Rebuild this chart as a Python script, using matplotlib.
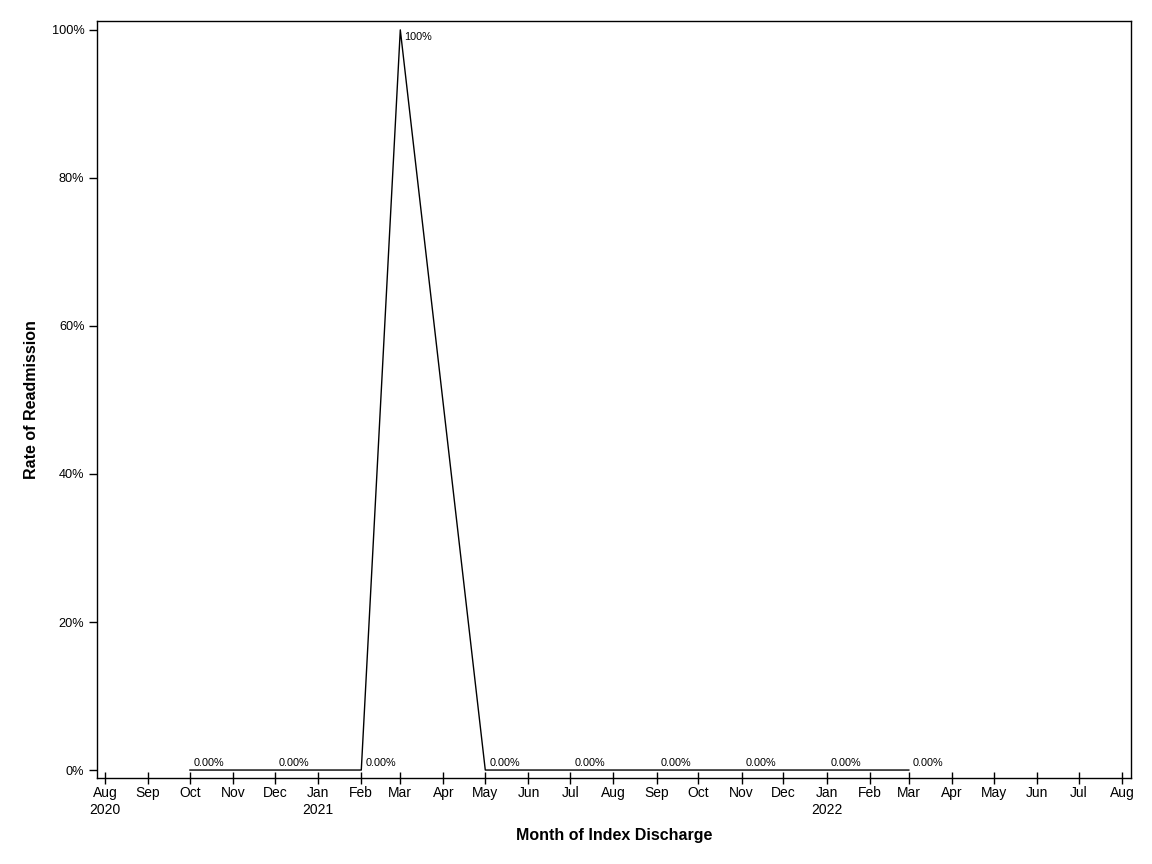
import numpy as np
import matplotlib
matplotlib.use('Agg')
import matplotlib.pyplot as plt
import matplotlib.dates as mdates
from datetime import date

# Readmission rate by month of index discharge
months = ['2020-10', '2020-12', '2021-02', '2021-03', '2021-05',
          '2021-07', '2021-09', '2021-11', '2022-01', '2022-03']
rates = [0.0, 0.0, 0.0, 100.0, 0.0, 0.0, 0.0, 0.0, 0.0, 0.0]
point_labels = ['0.00%', '0.00%', '0.00%', '100%', '0.00%',
                '0.00%', '0.00%', '0.00%', '0.00%', '0.00%']

y_ticks = [0, 20, 40, 60, 80, 100]
y_tick_labels = ['0%', '20%', '40%', '60%', '80%', '100%']

plt.rcParams['font.family'] = ['Liberation Sans', 'DejaVu Sans']

dates = [date(int(m[:4]), int(m[5:]), 1) for m in months]

fig = plt.figure(figsize=(11.52, 8.64), dpi=100)
ax = fig.add_axes([0.0842, 0.0995, 0.8976, 0.8762])

ax.plot(dates, rates, color='black', linewidth=1.0)

for d, r, lab in zip(dates, rates, point_labels):
    if r > 50:
        ax.annotate(lab, xy=(d, r), xytext=(3, -5), textcoords='offset points',
                    fontsize=7.8, ha='left', va='center')
    else:
        ax.annotate(lab, xy=(d, r), xytext=(3, 1.5), textcoords='offset points',
                    fontsize=7.8, ha='left', va='bottom')

# x axis: monthly ticks Aug 2020 .. Aug 2022
tick_dates = []
tick_labels = []
y, m = 2020, 8
while (y, m) <= (2022, 8):
    d = date(y, m, 1)
    tick_dates.append(d)
    lab = d.strftime('%b')
    if (y, m) == (2020, 8) or m == 1:
        lab += '\n' + str(y)
    tick_labels.append(lab)
    m += 1
    if m > 12:
        m, y = 1, y + 1

ax.set_xticks(tick_dates)
ax.set_xticklabels(tick_labels, fontsize=10)
ax.set_xlim(mdates.date2num(date(2020, 8, 1)) - 5.7,
            mdates.date2num(date(2022, 8, 1)) + 6.5)
ax.tick_params(axis='x', direction='inout', length=8, width=1, pad=2)

ax.set_yticks(y_ticks)
ax.set_yticklabels(y_tick_labels, fontsize=9.2)
ax.set_ylim(-1.08, 101.2)
ax.tick_params(axis='y', direction='out', length=6, width=1, pad=3)

ax.set_xlabel('Month of Index Discharge', fontsize=11.5, fontweight='bold', labelpad=8)
ax.set_ylabel('Rate of Readmission', fontsize=11.5, fontweight='bold', labelpad=9)

for spine in ax.spines.values():
    spine.set_linewidth(1.0)

fig.savefig('out.png', dpi=100, facecolor='white')
